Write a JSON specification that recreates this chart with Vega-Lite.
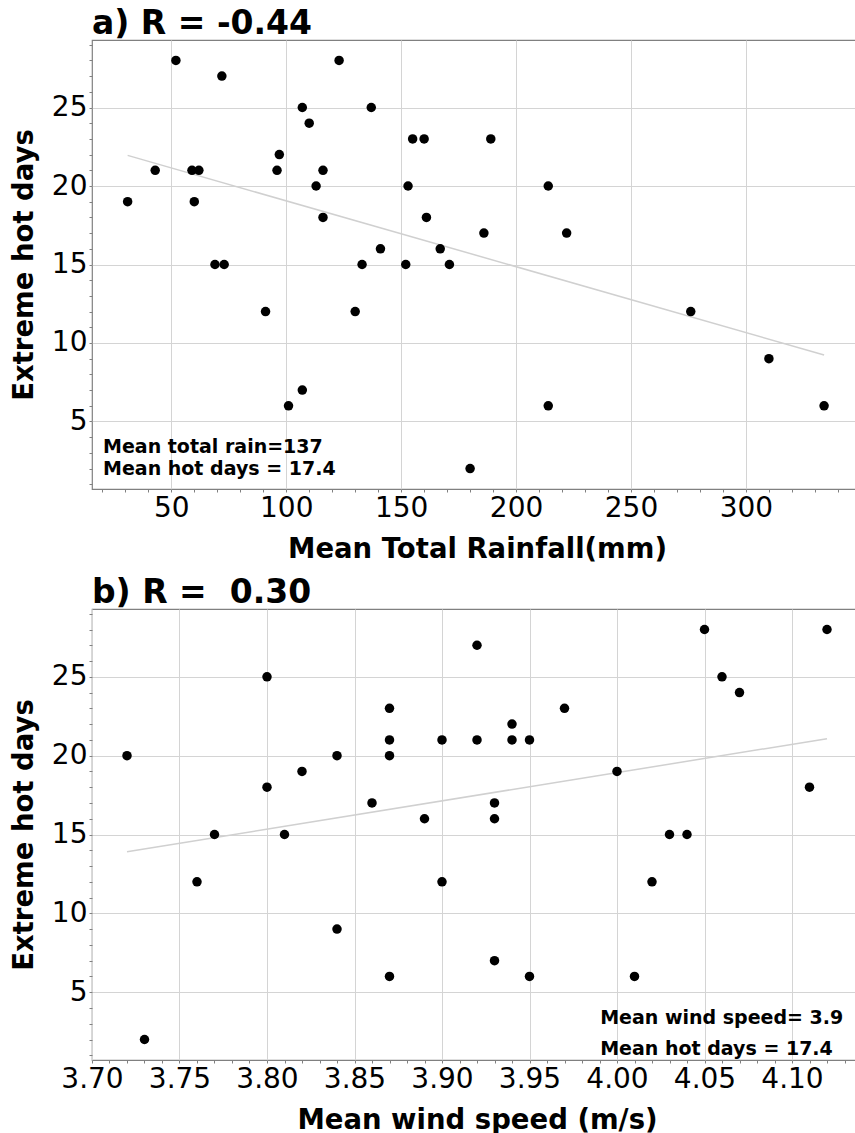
{
  "$schema": "https://vega.github.io/schema/vega-lite/v6.json",
  "padding": {"left": 9, "top": 7, "right": 0, "bottom": 0},
  "spacing": 120,
  "bounds": "flush",
  "config": {
    "font": "DejaVu Sans",
    "view": {"stroke": "#808080", "strokeWidth": 1.2},
    "axis": {
      "domain": false,
      "gridColor": "#d4d4d4",
      "gridWidth": 1,
      "tickColor": "#808080",
      "tickSize": 3,
      "tickCount": 100,
      "labelPadding": 2,
      "labelFont": "DejaVu Sans",
      "labelFontSize": 28,
      "labelColor": "black",
      "labelOverlap": false,
      "labelFlush": false,
      "titleFont": "DejaVu Sans",
      "titleFontSize": 27.5,
      "titleFontWeight": "bold",
      "titleColor": "black"
    },
    "title": {
      "font": "DejaVu Sans",
      "fontSize": 33,
      "fontWeight": "bold",
      "color": "black",
      "anchor": "start",
      "frame": "group",
      "baseline": "alphabetic",
      "offset": -10
    }
  },
  "datasets": {
    "rain": [
      {"rainfall_mm": 52, "hot_days": 28},
      {"rainfall_mm": 72, "hot_days": 27},
      {"rainfall_mm": 107, "hot_days": 25},
      {"rainfall_mm": 137, "hot_days": 25},
      {"rainfall_mm": 123, "hot_days": 28},
      {"rainfall_mm": 110, "hot_days": 24},
      {"rainfall_mm": 155, "hot_days": 23},
      {"rainfall_mm": 160, "hot_days": 23},
      {"rainfall_mm": 189, "hot_days": 23},
      {"rainfall_mm": 97, "hot_days": 22},
      {"rainfall_mm": 43, "hot_days": 21},
      {"rainfall_mm": 59, "hot_days": 21},
      {"rainfall_mm": 62, "hot_days": 21},
      {"rainfall_mm": 96, "hot_days": 21},
      {"rainfall_mm": 116, "hot_days": 21},
      {"rainfall_mm": 113, "hot_days": 20},
      {"rainfall_mm": 153, "hot_days": 20},
      {"rainfall_mm": 214, "hot_days": 20},
      {"rainfall_mm": 31, "hot_days": 19},
      {"rainfall_mm": 60, "hot_days": 19},
      {"rainfall_mm": 116, "hot_days": 18},
      {"rainfall_mm": 161, "hot_days": 18},
      {"rainfall_mm": 186, "hot_days": 17},
      {"rainfall_mm": 222, "hot_days": 17},
      {"rainfall_mm": 141, "hot_days": 16},
      {"rainfall_mm": 167, "hot_days": 16},
      {"rainfall_mm": 69, "hot_days": 15},
      {"rainfall_mm": 73, "hot_days": 15},
      {"rainfall_mm": 133, "hot_days": 15},
      {"rainfall_mm": 152, "hot_days": 15},
      {"rainfall_mm": 171, "hot_days": 15},
      {"rainfall_mm": 91, "hot_days": 12},
      {"rainfall_mm": 130, "hot_days": 12},
      {"rainfall_mm": 107, "hot_days": 7},
      {"rainfall_mm": 101, "hot_days": 6},
      {"rainfall_mm": 180, "hot_days": 2},
      {"rainfall_mm": 276, "hot_days": 12},
      {"rainfall_mm": 310, "hot_days": 9},
      {"rainfall_mm": 214, "hot_days": 6},
      {"rainfall_mm": 334, "hot_days": 6}
    ],
    "wind": [
      {"wind_speed": 3.72, "hot_days": 20},
      {"wind_speed": 3.80, "hot_days": 25},
      {"wind_speed": 3.92, "hot_days": 27},
      {"wind_speed": 3.87, "hot_days": 23},
      {"wind_speed": 3.87, "hot_days": 21},
      {"wind_speed": 3.90, "hot_days": 21},
      {"wind_speed": 3.92, "hot_days": 21},
      {"wind_speed": 3.84, "hot_days": 20},
      {"wind_speed": 3.87, "hot_days": 20},
      {"wind_speed": 3.82, "hot_days": 19},
      {"wind_speed": 3.80, "hot_days": 18},
      {"wind_speed": 3.86, "hot_days": 17},
      {"wind_speed": 3.89, "hot_days": 16},
      {"wind_speed": 4.05, "hot_days": 28},
      {"wind_speed": 4.12, "hot_days": 28},
      {"wind_speed": 4.06, "hot_days": 25},
      {"wind_speed": 4.07, "hot_days": 24},
      {"wind_speed": 3.97, "hot_days": 23},
      {"wind_speed": 3.94, "hot_days": 22},
      {"wind_speed": 3.94, "hot_days": 21},
      {"wind_speed": 3.95, "hot_days": 21},
      {"wind_speed": 4.00, "hot_days": 19},
      {"wind_speed": 4.11, "hot_days": 18},
      {"wind_speed": 3.93, "hot_days": 17},
      {"wind_speed": 3.93, "hot_days": 16},
      {"wind_speed": 3.77, "hot_days": 15},
      {"wind_speed": 3.81, "hot_days": 15},
      {"wind_speed": 4.03, "hot_days": 15},
      {"wind_speed": 4.04, "hot_days": 15},
      {"wind_speed": 3.76, "hot_days": 12},
      {"wind_speed": 3.90, "hot_days": 12},
      {"wind_speed": 4.02, "hot_days": 12},
      {"wind_speed": 3.84, "hot_days": 9},
      {"wind_speed": 3.93, "hot_days": 7},
      {"wind_speed": 3.87, "hot_days": 6},
      {"wind_speed": 3.95, "hot_days": 6},
      {"wind_speed": 4.01, "hot_days": 6},
      {"wind_speed": 3.73, "hot_days": 2}
    ]
  },
  "vconcat": [
    {
      "width": 770,
      "height": 449,
      "title": {"text": "a) R = -0.44"},
      "layer": [
        {
          "data": {"name": "rain"},
          "transform": [{"regression": "hot_days", "on": "rainfall_mm"}],
          "mark": {"type": "line", "color": "#d0d0d0", "strokeWidth": 1.5},
          "encoding": {
            "x": {
              "field": "rainfall_mm", "type": "quantitative",
              "scale": {"domain": [15.5, 350.5], "nice": false, "zero": false},
              "axis": {
                "title": "Mean Total Rainfall(mm)",
                "titlePadding": 13,
                "tickCount": 100,
                "format": "d",
                "values": [20, 30, 40, 50, 60, 70, 80, 90, 100, 110, 120, 130, 140, 150, 160, 170, 180, 190, 200, 210, 220, 230, 240, 250, 260, 270, 280, 290, 300, 310, 320, 330, 340],
                "labelExpr": "datum.value % 50 === 0 ? datum.label : ''",
                "gridOpacity": {"condition": {"test": "datum.value % 50 === 0", "value": 1}, "value": 0}
              }
            },
            "y": {
              "field": "hot_days", "type": "quantitative",
              "scale": {"domain": [0.7, 29.3], "nice": false, "zero": false},
              "axis": {
                "title": "Extreme hot days",
                "titlePadding": 13,
                "tickCount": 100,
                "format": "d",
                "values": [1, 2, 3, 4, 5, 6, 7, 8, 9, 10, 11, 12, 13, 14, 15, 16, 17, 18, 19, 20, 21, 22, 23, 24, 25, 26, 27, 28, 29],
                "labelExpr": "datum.value % 5 === 0 ? datum.label : ''",
                "gridOpacity": {"condition": {"test": "datum.value % 5 === 0", "value": 1}, "value": 0}
              }
            }
          }
        },
        {
          "data": {"name": "rain"},
          "mark": {"type": "circle", "color": "black", "opacity": 1, "size": 90},
          "encoding": {
            "x": {"field": "rainfall_mm", "type": "quantitative", "scale": {"domain": [15.5, 350.5], "nice": false, "zero": false}},
            "y": {"field": "hot_days", "type": "quantitative", "scale": {"domain": [0.7, 29.3], "nice": false, "zero": false}}
          }
        },
        {
          "data": {"values": [{"note": "Mean total rain=137"}]},
          "mark": {"type": "text", "align": "left", "baseline": "alphabetic", "font": "DejaVu Sans", "fontWeight": "bold", "fontSize": 19, "color": "black"},
          "encoding": {
            "x": {"datum": 20.3, "type": "quantitative", "scale": {"domain": [15.5, 350.5], "nice": false, "zero": false}},
            "y": {"datum": 3.0, "type": "quantitative", "scale": {"domain": [0.7, 29.3], "nice": false, "zero": false}},
            "text": {"field": "note"}
          }
        },
        {
          "data": {"values": [{"note": "Mean hot days = 17.4"}]},
          "mark": {"type": "text", "align": "left", "baseline": "alphabetic", "font": "DejaVu Sans", "fontWeight": "bold", "fontSize": 19, "color": "black"},
          "encoding": {
            "x": {"datum": 20.3, "type": "quantitative", "scale": {"domain": [15.5, 350.5], "nice": false, "zero": false}},
            "y": {"datum": 1.58, "type": "quantitative", "scale": {"domain": [0.7, 29.3], "nice": false, "zero": false}},
            "text": {"field": "note"}
          }
        }
      ]
    },
    {
      "width": 770,
      "height": 451,
      "title": {"text": "b) R =\u00a0 0.30"},
      "layer": [
        {
          "data": {"name": "wind"},
          "transform": [{"regression": "hot_days", "on": "wind_speed"}],
          "mark": {"type": "line", "color": "#d0d0d0", "strokeWidth": 1.5},
          "encoding": {
            "x": {
              "field": "wind_speed", "type": "quantitative",
              "scale": {"domain": [3.70, 4.14], "nice": false, "zero": false},
              "axis": {
                "title": "Mean wind speed (m/s)",
                "titlePadding": 13,
                "tickCount": 100,
                "format": ".2f",
                "values": [3.70, 3.71, 3.72, 3.73, 3.74, 3.75, 3.76, 3.77, 3.78, 3.79, 3.80, 3.81, 3.82, 3.83, 3.84, 3.85, 3.86, 3.87, 3.88, 3.89, 3.90, 3.91, 3.92, 3.93, 3.94, 3.95, 3.96, 3.97, 3.98, 3.99, 4.00, 4.01, 4.02, 4.03, 4.04, 4.05, 4.06, 4.07, 4.08, 4.09, 4.10, 4.11, 4.12, 4.13],
                "labelExpr": "round(datum.value * 100) % 5 === 0 ? datum.label : ''",
                "gridOpacity": {"condition": {"test": "round(datum.value * 100) % 5 === 0", "value": 1}, "value": 0}
              }
            },
            "y": {
              "field": "hot_days", "type": "quantitative",
              "scale": {"domain": [0.7, 29.3], "nice": false, "zero": false},
              "axis": {
                "title": "Extreme hot days",
                "titlePadding": 13,
                "tickCount": 100,
                "format": "d",
                "values": [1, 2, 3, 4, 5, 6, 7, 8, 9, 10, 11, 12, 13, 14, 15, 16, 17, 18, 19, 20, 21, 22, 23, 24, 25, 26, 27, 28, 29],
                "labelExpr": "datum.value % 5 === 0 ? datum.label : ''",
                "gridOpacity": {"condition": {"test": "datum.value % 5 === 0", "value": 1}, "value": 0}
              }
            }
          }
        },
        {
          "data": {"name": "wind"},
          "mark": {"type": "circle", "color": "black", "opacity": 1, "size": 90},
          "encoding": {
            "x": {"field": "wind_speed", "type": "quantitative", "scale": {"domain": [3.70, 4.14], "nice": false, "zero": false}},
            "y": {"field": "hot_days", "type": "quantitative", "scale": {"domain": [0.7, 29.3], "nice": false, "zero": false}}
          }
        },
        {
          "data": {"values": [{"note": "Mean wind speed= 3.9"}]},
          "mark": {"type": "text", "align": "left", "baseline": "alphabetic", "font": "DejaVu Sans", "fontWeight": "bold", "fontSize": 19, "color": "black"},
          "encoding": {
            "x": {"datum": 3.9904, "type": "quantitative", "scale": {"domain": [3.70, 4.14], "nice": false, "zero": false}},
            "y": {"datum": 3.01, "type": "quantitative", "scale": {"domain": [0.7, 29.3], "nice": false, "zero": false}},
            "text": {"field": "note"}
          }
        },
        {
          "data": {"values": [{"note": "Mean hot days = 17.4"}]},
          "mark": {"type": "text", "align": "left", "baseline": "alphabetic", "font": "DejaVu Sans", "fontWeight": "bold", "fontSize": 19, "color": "black"},
          "encoding": {
            "x": {"datum": 3.9904, "type": "quantitative", "scale": {"domain": [3.70, 4.14], "nice": false, "zero": false}},
            "y": {"datum": 1.0, "type": "quantitative", "scale": {"domain": [0.7, 29.3], "nice": false, "zero": false}},
            "text": {"field": "note"}
          }
        }
      ]
    }
  ]
}
